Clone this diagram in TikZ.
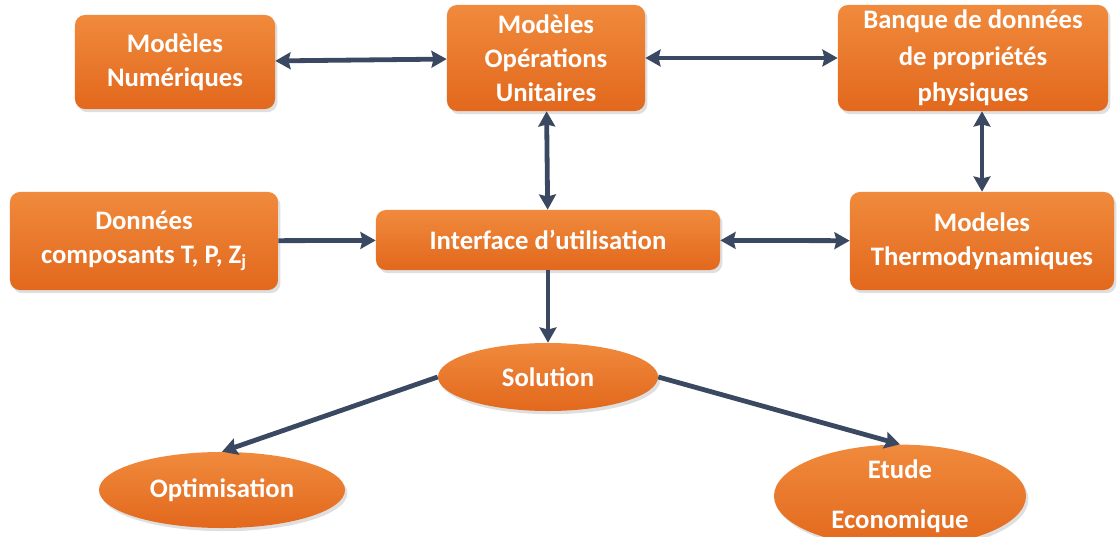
\documentclass[tikz,border=0pt]{standalone}
\usepackage{fontspec}
\setmainfont{Carlito}
\usetikzlibrary{arrows.meta, shapes.geometric, shadows}
\definecolor{boxtop}{HTML}{F08A3C}
\definecolor{boxbot}{HTML}{E2681D}
\definecolor{flow}{HTML}{3A4961}

\begin{document}
\begin{tikzpicture}[x=0.025cm, y=-0.025cm,
  >={Stealth[length=0.38cm, width=0.42cm, inset=0.05cm]},
  bloc/.style={rectangle, rounded corners=0.25cm, top color=boxtop, bottom color=boxbot,
    text=white, font=\fontsize{19}{24}\selectfont\bfseries, align=center, inner sep=0pt,
    drop shadow={opacity=0.25, shadow xshift=0.06cm, shadow yshift=-0.08cm}},
  ovale/.style={bloc, ellipse, rounded corners=0pt},
  lien/.style={line width=0.12cm, draw=flow, ->},
  lien2/.style={line width=0.12cm, draw=flow, <->}]
			\useasboundingbox (0,0) rectangle (1120,537);
			
			% Upper row
			\node[bloc, minimum width=5cm, minimum height=2.35cm] (num) at (175,62) {Modèles\\Numériques};
			\node[bloc, minimum width=4.95cm, minimum height=2.65cm] (ops) at (546,58) {Modèles\\Opérations\\Unitaires};
			\node[bloc, minimum width=6.75cm, minimum height=2.65cm, font=\fontsize{19}{26}\selectfont\bfseries] (bdd) at (973,58) {Banque de données\\de propriétés\\physiques};
			
			% Middle row
			\node[bloc, minimum width=6.7cm, minimum height=2.45cm] (don) at (144,241) {Données\\composants T, P, Z\textsubscript{j}};
			\node[bloc, minimum width=8.6cm, minimum height=1.5cm] (itf) at (548,240) {Interface d’utilisation};
			\node[bloc, minimum width=6.6cm, minimum height=2.45cm] (thm) at (982,241) {Modeles\\Thermodynamiques};
			
			% Results
			\node[ovale, minimum width=5.5cm, minimum height=1.7cm] (sol) at (548,377) {Solution};
			\node[ovale, minimum width=6.15cm, minimum height=1.9cm] (opt) at (222,490) {Optimisation};
			\node[ovale, minimum width=6.3cm, minimum height=2.1cm] (eco) at (900,496) {Etude\\[0.4cm]Economique};
			
			% Links
			\draw[lien2] (num) -- (ops);
			\draw[lien2] (ops) -- (bdd);
			\draw[lien2] (ops) -- (itf);
			\draw[lien2] (bdd.south -| thm.north) -- (thm);
			\draw[lien] (don) -- (itf);
			\draw[lien2] (itf) -- (thm);
			\draw[lien] (itf) -- (sol);
			\draw[lien] (sol.west) -- (opt.north);
			\draw[lien] (sol.east) -- (eco.north);
			
		\end{tikzpicture}
\end{document}
